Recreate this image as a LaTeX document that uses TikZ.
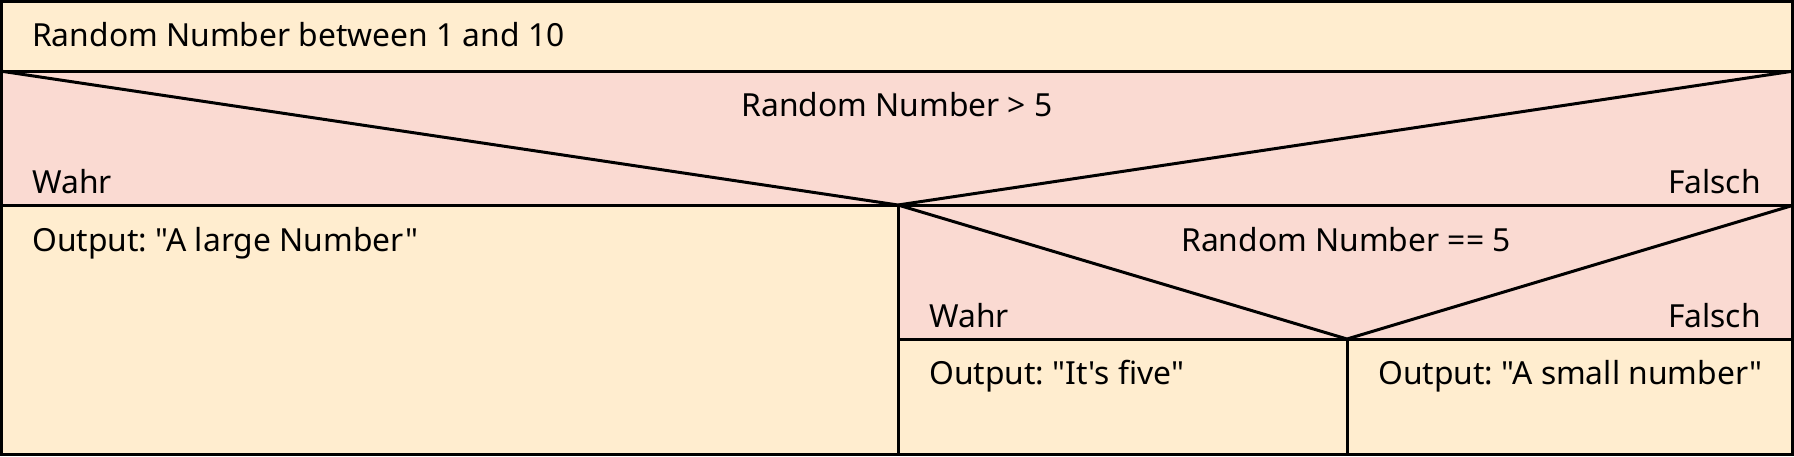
\documentclass[tikz,border=0pt]{standalone}
\usepackage{fontspec}
\newfontfamily\nsans{Noto Sans}
\definecolor{cream}{HTML}{FFEDCF}
\definecolor{rose}{HTML}{FADAD2}
\frenchspacing
\begin{document}
\begin{tikzpicture}[x=1pt,y=-1pt,
  lbl/.style={inner sep=0pt,font=\nsans\fontsize{31.8}{36}\selectfont},
  edge/.style={line width=3pt,line join=miter}]
\useasboundingbox (0,0) rectangle (1794,456);
% fills
\fill[cream] (0,0) rectangle (1794,71);
\fill[rose] (0,71) rectangle (1794,205);
\fill[cream] (0,205) rectangle (898,456);
\fill[rose] (898,205) rectangle (1794,339);
\fill[cream] (898,339) rectangle (1794,456);
% corner points
\coordinate (tl) at (0,71);
\coordinate (tr) at (1794,71);
\coordinate (a1) at (898,205);
\coordinate (l1) at (0,205);
\coordinate (r1) at (1794,205);
\coordinate (a2) at (1347,339);
\coordinate (l2) at (898,339);
\coordinate (r2) at (1794,339);
\coordinate (b1) at (898,456);
\coordinate (b2) at (1347,456);
% lines
\draw[edge] (tl) -- (tr);
\draw[edge] (l1) -- (r1);
\draw[edge] (tl) -- (a1) -- (tr);
\draw[edge] (a1) -- (b1);
\draw[edge] (a1) -- (a2) -- (r1);
\draw[edge] (l2) -- (r2);
\draw[edge] (a2) -- (b2);
\draw[edge] (1.5,1.5) rectangle (1792.5,454.5);
% texts
\node[lbl,anchor=base west] (t0) at (32,46) {Random Number between 1 and 10};
\node[lbl,anchor=base] (c1) at (897,116) {Random Number > 5};
\node[lbl,anchor=base west] (w1) at (32,193) {Wahr};
\node[lbl,anchor=base east] (f1) at (1761,193) {Falsch};
\node[lbl,anchor=base west] (o1) at (32,251) {Output: "A large Number"};
\node[lbl,anchor=base] (c2) at (1346,251) {Random Number == 5};
\node[lbl,anchor=base west] (w2) at (929,327) {Wahr};
\node[lbl,anchor=base east] (f2) at (1761,327) {Falsch};
\node[lbl,anchor=base west] (o2) at (929,384) {Output: "It's five"};
\node[lbl,anchor=base west] (o3) at (1378,384) {Output: "A small number"};
\end{tikzpicture}
\end{document}
